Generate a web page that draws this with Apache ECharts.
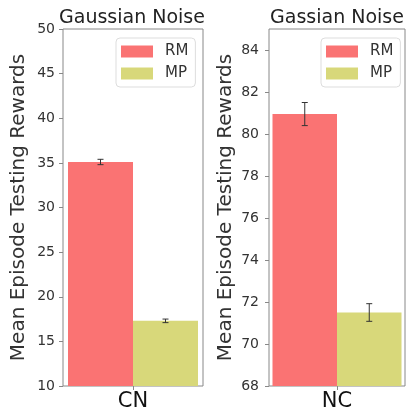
<!DOCTYPE html>
<html>
<head>
<meta charset="utf-8">
<script src="https://cdn.jsdelivr.net/npm/echarts@6/dist/echarts.min.js"></script>
<style>html,body{margin:0;padding:0;background:#fff;}#c{width:409px;height:412px;}</style>
</head>
<body>
<div id="c"></div>
<script>
// ---- data ----
const seriesNames = ['RM', 'MP'];
const leftCategories = ['CN'];
const rightCategories = ['NC'];
const leftTitle = 'Gaussian Noise';
const rightTitle = 'Gassian Noise';
const yName = 'Mean Episode Testing Rewards';
const leftRM = [35.1];
const leftRMErr = [0.3];
const leftMP = [17.3];
const leftMPErr = [0.2];
const rightRM = [80.95];
const rightRMErr = [0.55];
const rightMP = [71.5];
const rightMPErr = [0.42];
const leftYTicks = { min: 10, max: 50, interval: 5 };
const rightYTicks = { min: 68, max: 85, interval: 2 };

// ---- style ----
const FONT = 'DejaVu Sans';
const RM_COLOR = '#fa7373';
const MP_COLOR = '#d8d87a';
const AXIS_COLOR = '#888';
const TEXT_COLOR = '#333';
const grids = [
  { left: 63, top: 29, width: 140, height: 358 },
  { left: 269, top: 29, width: 136, height: 358 }
];
const barWidths = [65, 64.5];

function errSeries(gi, cats, vals, errs, sign) {
  return {
    type: 'custom',
    xAxisIndex: gi, yAxisIndex: gi,
    z: 10,
    silent: true,
    data: cats.map((c, i) => [i, vals[i], errs[i]]),
    encode: { x: 0, y: 1 },
    renderItem: function (params, api) {
      const i = api.value(0), v = api.value(1), e = api.value(2);
      const top = api.coord([i, v + e]);
      const bot = api.coord([i, v - e]);
      const x = top[0] + sign * barWidths[gi] / 2;
      const st = { stroke: '#333', lineWidth: 1 };
      return {
        type: 'group',
        children: [
          { type: 'line', shape: { x1: x, y1: top[1], x2: x, y2: bot[1] }, style: st },
          { type: 'line', shape: { x1: x - 3, y1: top[1], x2: x + 3, y2: top[1] }, style: st },
          { type: 'line', shape: { x1: x - 3, y1: bot[1], x2: x + 3, y2: bot[1] }, style: st }
        ]
      };
    }
  };
}

function yAxisCfg(gi, t, margin, nameGap) {
  return {
    type: 'value', gridIndex: gi,
    min: t.min, max: t.max, interval: t.interval,
    name: yName, nameLocation: 'middle', nameGap: nameGap,
    nameTextStyle: { fontFamily: FONT, fontSize: 20, color: TEXT_COLOR },
    axisLine: { show: false },
    axisTick: { show: true, length: 4, lineStyle: { color: AXIS_COLOR } },
    axisLabel: {
      fontFamily: FONT, fontSize: 14, color: TEXT_COLOR, margin: margin,
      showMaxLabel: (t.max - t.min) % t.interval === 0,
      formatter: function (v) { return ((v - t.min) % t.interval === 0) ? String(v) : ''; }
    },
    splitLine: { show: false }
  };
}

function xAxisCfg(gi, cats) {
  return {
    type: 'category', gridIndex: gi, data: cats,
    axisLine: { show: false },
    axisTick: { show: true, alignWithLabel: true, length: 4, lineStyle: { color: AXIS_COLOR } },
    axisLabel: { fontFamily: FONT, fontSize: 21, color: '#111', margin: 5 }
  };
}

function legendCfg(left) {
  return {
    data: seriesNames,
    orient: 'vertical',
    left: left, top: 38,
    backgroundColor: '#fff',
    borderColor: '#ddd', borderWidth: 1, borderRadius: 4,
    padding: [6, 7, 6, 5],
    itemWidth: 32, itemHeight: 12, itemGap: 7,
    icon: 'rect',
    textStyle: { fontFamily: FONT, fontSize: 15, color: TEXT_COLOR, padding: [0, 0, 0, 7] }
  };
}

const option = {
  animation: false,
  backgroundColor: '#fff',
  grid: grids.map(g => Object.assign({ show: true, borderColor: AXIS_COLOR, borderWidth: 1, backgroundColor: 'transparent' }, g)),
  xAxis: [xAxisCfg(0, leftCategories), xAxisCfg(1, rightCategories)],
  yAxis: [yAxisCfg(0, leftYTicks, 8, 34), yAxisCfg(1, rightYTicks, 10, 33)],
  legend: [legendCfg(116), legendCfg(321)],
  graphic: [
    { type: 'text', x: 132, y: 18, style: { text: leftTitle, align: 'center', verticalAlign: 'middle', font: '19px "DejaVu Sans"', fill: '#222' } },
    { type: 'text', x: 337, y: 18, style: { text: rightTitle, align: 'center', verticalAlign: 'middle', font: '19px "DejaVu Sans"', fill: '#222' } }
  ],
  series: [
    { name: 'RM', type: 'bar', xAxisIndex: 0, yAxisIndex: 0, data: leftRM, barWidth: barWidths[0], barGap: '0%', itemStyle: { color: RM_COLOR } },
    { name: 'MP', type: 'bar', xAxisIndex: 0, yAxisIndex: 0, data: leftMP, barWidth: barWidths[0], barGap: '0%', itemStyle: { color: MP_COLOR } },
    { name: 'RM', type: 'bar', xAxisIndex: 1, yAxisIndex: 1, data: rightRM, barWidth: barWidths[1], barGap: '0%', itemStyle: { color: RM_COLOR } },
    { name: 'MP', type: 'bar', xAxisIndex: 1, yAxisIndex: 1, data: rightMP, barWidth: barWidths[1], barGap: '0%', itemStyle: { color: MP_COLOR } },
    errSeries(0, leftCategories, leftRM, leftRMErr, -1),
    errSeries(0, leftCategories, leftMP, leftMPErr, 1),
    errSeries(1, rightCategories, rightRM, rightRMErr, -1),
    errSeries(1, rightCategories, rightMP, rightMPErr, 1)
  ]
};

const chart = echarts.init(document.getElementById('c'), null, { renderer: 'canvas' });
chart.setOption(option);
</script>
</body>
</html>
